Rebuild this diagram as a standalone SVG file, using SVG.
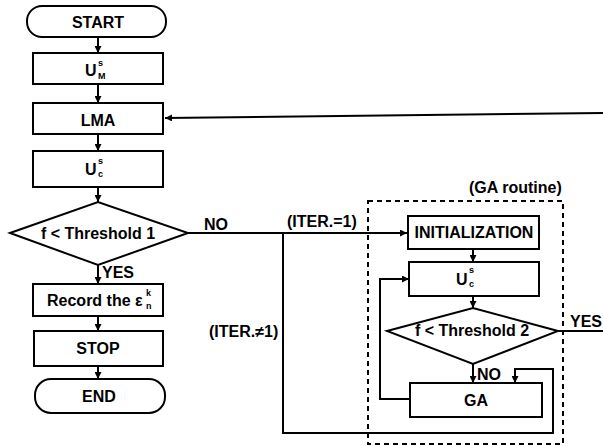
<svg xmlns="http://www.w3.org/2000/svg" width="603" height="446" viewBox="0 0 603 446">
<style>
.b{fill:#fff;stroke:#000;stroke-width:2}
.t{font-family:"Liberation Sans",Arial,sans-serif;font-weight:bold;font-size:16px;fill:#000}
.c{text-anchor:middle}
.s{font-size:9px}
.l{fill:none;stroke:#000;stroke-width:2}
.d{fill:none;stroke:#000;stroke-width:2;stroke-dasharray:5,4}
</style>
<defs>
<marker id="ah" viewBox="0 0 8 8" refX="8" refY="4" markerWidth="7" markerHeight="7" markerUnits="userSpaceOnUse" orient="auto">
<path d="M0,0 L8,4 L0,8 z" fill="#000"/>
</marker>
</defs>
<rect width="603" height="446" fill="#fff"/>
<g id="connectors">
<line class="l" x1="98" y1="37" x2="98" y2="53" marker-end="url(#ah)"/>
<line class="l" x1="98" y1="84" x2="98" y2="103" marker-end="url(#ah)"/>
<line class="l" x1="98" y1="134" x2="98" y2="151" marker-end="url(#ah)"/>
<line class="l" x1="98" y1="187" x2="98" y2="202" marker-end="url(#ah)"/>
<line class="l" x1="98" y1="265" x2="98" y2="284" marker-end="url(#ah)"/>
<line class="l" x1="98" y1="316" x2="98" y2="331" marker-end="url(#ah)"/>
<line class="l" x1="98" y1="366" x2="98" y2="379" marker-end="url(#ah)"/>
<line class="l" x1="603" y1="113" x2="165" y2="118" marker-end="url(#ah)"/>
<line class="l" x1="188" y1="233" x2="407" y2="233" marker-end="url(#ah)"/>
<polyline class="l" points="283,233 283,433 553,433 553,369 515,369 515,383" marker-end="url(#ah)"/>
<line class="l" x1="473" y1="249" x2="473" y2="262" marker-end="url(#ah)"/>
<line class="l" x1="473" y1="296" x2="473" y2="308" marker-end="url(#ah)"/>
<line class="l" x1="473" y1="364" x2="473" y2="383" marker-end="url(#ah)"/>
<polyline class="l" points="410,399 380,399 380,279 409,279" marker-end="url(#ah)"/>
<line class="l" x1="558" y1="331" x2="603" y2="331"/>
<rect class="d" x="368" y="201" width="195" height="243"/>
<text class="t" x="204" y="230">NO</text>
<text class="t" x="287" y="227">(ITER.=1)</text>
<text class="t" x="209" y="337">(ITER.≠1)</text>
<text class="t" x="469" y="193">(GA routine)</text>
<text class="t" x="102" y="278">YES</text>
<text class="t" x="570" y="327">YES</text>
<text class="t" x="477" y="380">NO</text>
</g>
<g id="start"><rect class="b" x="27" y="6" width="139" height="31" rx="15"/><text class="t c" x="98" y="28">START</text></g>
<g id="um"><rect class="b" x="33" y="53" width="130" height="31"/><text class="t" x="85" y="76">U<tspan class="s" x="98" y="66">s</tspan><tspan class="s" x="98" y="79">M</tspan></text></g>
<g id="lma"><rect class="b" x="33" y="103" width="130" height="31"/><text class="t c" x="98" y="126">LMA</text></g>
<g id="uc1"><rect class="b" x="33" y="151" width="130" height="36"/><text class="t" x="85" y="175">U<tspan class="s" x="98" y="164">s</tspan><tspan class="s" x="98" y="177">c</tspan></text></g>
<g id="th1"><polygon class="b" points="10,233 98,202 188,233 98,265"/><text class="t c" x="98" y="239">f &lt; Threshold 1</text></g>
<g id="record"><rect class="b" x="33" y="284" width="130" height="32"/><text class="t" x="47" y="306">Record the ε<tspan class="s" x="146" y="296">k</tspan><tspan class="s" x="146" y="309">n</tspan></text></g>
<g id="stop"><rect class="b" x="34" y="331" width="129" height="35"/><text class="t c" x="98" y="354">STOP</text></g>
<g id="end"><rect class="b" x="35" y="379" width="130" height="34" rx="16"/><text class="t c" x="99" y="402">END</text></g>
<g id="init"><rect class="b" x="408" y="216" width="131" height="33"/><text class="t c" x="474" y="238">INITIALIZATION</text></g>
<g id="uc2"><rect class="b" x="409" y="262" width="130" height="34"/><text class="t" x="456" y="285">U<tspan class="s" x="469" y="273">s</tspan><tspan class="s" x="469" y="287">c</tspan></text></g>
<g id="th2"><polygon class="b" points="387,331 473,308 558,331 473,364"/><text class="t c" x="472" y="336">f &lt; Threshold 2</text></g>
<g id="ga"><rect class="b" x="410" y="383" width="132" height="34"/><text class="t c" x="476" y="406">GA</text></g>
</svg>
